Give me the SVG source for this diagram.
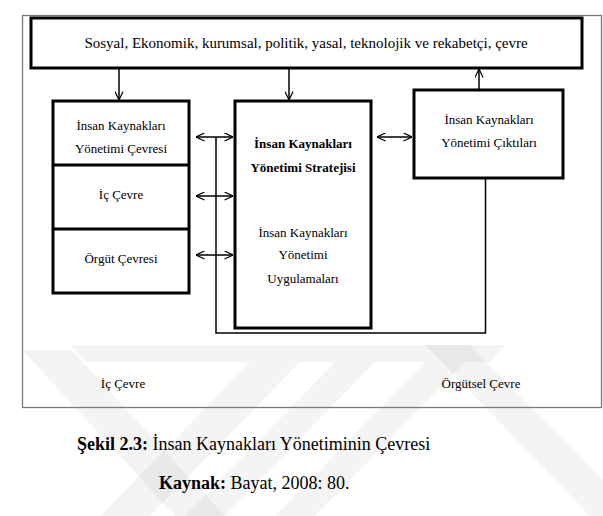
<svg xmlns="http://www.w3.org/2000/svg" width="603" height="516" viewBox="0 0 603 516">
<defs>
<marker id="ah" viewBox="0 0 10 10" refX="9.5" refY="5" markerWidth="9" markerHeight="9" markerUnits="userSpaceOnUse" orient="auto-start-reverse">
<path d="M0,0.5 L9.5,5 L0,9.5" fill="none" stroke="#000" stroke-width="1.3"/>
</marker>
<style>
.box{fill:#fff;stroke:#000;stroke-width:3}
.ln{fill:none;stroke:#000;stroke-width:1.5}
.t{font-family:"Liberation Serif","Times New Roman",serif;font-size:13px;fill:#000;text-anchor:middle}
.b{font-weight:bold}
.c{font-family:"Liberation Serif","Times New Roman",serif;font-size:18px;fill:#000}
.wm{fill:#000;opacity:0.045}
</style>
</defs>
<rect width="603" height="516" fill="#fff"/>
<g id="watermark">
<polygon class="wm" points="22,350 72,350 225,516 175,516"/>
<polygon class="wm" points="70,345 505,345 490,362 85,362"/>
<polygon class="wm" points="250,362 300,362 150,516 100,516"/>
<polygon class="wm" points="335,362 375,362 225,516 185,516"/>
<polygon class="wm" points="425,362 465,362 315,516 275,516"/>
<polygon class="wm" points="425,345 470,345 603,480 603,516 590,516"/>
</g>
<rect x="22.5" y="15.5" width="579" height="392" fill="none" stroke="#7a7a7a" stroke-width="1.3"/>
<g id="connectors">
<line class="ln" x1="119" y1="68" x2="119" y2="100" marker-end="url(#ah)"/>
<line class="ln" x1="289" y1="68" x2="289" y2="100" marker-end="url(#ah)"/>
<line class="ln" x1="479" y1="89" x2="479" y2="69" marker-end="url(#ah)"/>
<polyline class="ln" points="485.5,178 485.5,333 216,333 216,137"/>
<line class="ln" x1="196" y1="137" x2="233" y2="137" marker-start="url(#ah)" marker-end="url(#ah)"/>
<line class="ln" x1="196" y1="196" x2="233" y2="196" marker-start="url(#ah)" marker-end="url(#ah)"/>
<line class="ln" x1="196" y1="255" x2="233" y2="255" marker-start="url(#ah)" marker-end="url(#ah)"/>
<line class="ln" x1="377" y1="137" x2="412" y2="137" marker-start="url(#ah)" marker-end="url(#ah)"/>
</g>
<g id="cevre">
<rect class="box" x="31" y="18" width="551" height="50"/>
<text class="t" x="306" y="48" style="font-size:15px">Sosyal, Ekonomik, kurumsal, politik, yasal, teknolojik ve rekabetçi, çevre</text>
</g>
<g id="sol">
<rect class="box" x="53" y="101" width="136" height="192"/>
<line x1="53" y1="165" x2="189" y2="165" stroke="#000" stroke-width="3"/>
<line x1="53" y1="229" x2="189" y2="229" stroke="#000" stroke-width="3"/>
<text class="t" x="121" y="129.5">İnsan Kaynakları</text>
<text class="t" x="121" y="152.5">Yönetimi Çevresi</text>
<text class="t" x="121" y="198.5">İç Çevre</text>
<text class="t" x="121" y="262.5">Örgüt Çevresi</text>
</g>
<g id="strateji">
<rect class="box" x="235" y="101" width="136" height="227"/>
<text class="t b" x="303" y="147.5">İnsan Kaynakları</text>
<text class="t b" x="303" y="171.5">Yönetimi Stratejisi</text>
<text class="t" x="303" y="236.5">İnsan Kaynakları</text>
<text class="t" x="303" y="258.5">Yönetimi</text>
<text class="t" x="303" y="282.5">Uygulamaları</text>
</g>
<g id="ciktilar">
<rect class="box" x="414" y="90" width="149" height="88"/>
<text class="t" x="489" y="123.5">İnsan Kaynakları</text>
<text class="t" x="489" y="146.5">Yönetimi Çıktıları</text>
</g>
<text class="t" x="123" y="387.5">İç Çevre</text>
<text class="t" x="481" y="387.5">Örgütsel Çevre</text>
<text class="c" x="77" y="450"><tspan font-weight="bold">Şekil 2.3:</tspan> İnsan Kaynakları Yönetiminin Çevresi</text>
<text class="c" x="159" y="489"><tspan font-weight="bold">Kaynak:</tspan> Bayat, 2008: 80.</text>
</svg>
